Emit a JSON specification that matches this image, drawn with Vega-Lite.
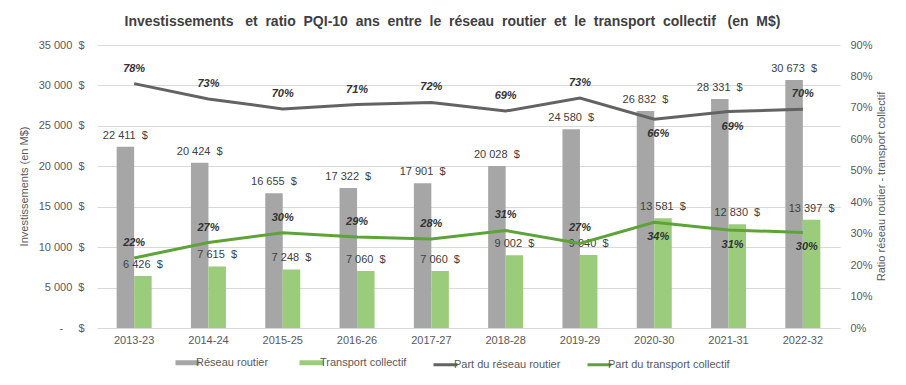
{
  "$schema": "https://vega.github.io/schema/vega-lite/v6.json",
  "width": 743,
  "height": 283,
  "autosize": {"type": "none"},
  "padding": {"left": 97, "top": 45, "right": 66, "bottom": 57},
  "background": "white",
  "title": {
    "text": "Investissements \u00a0\u00a0et \u00a0ratio \u00a0PQI-10 \u00a0ans \u00a0entre \u00a0le \u00a0réseau \u00a0routier \u00a0et \u00a0le \u00a0transport \u00a0collectif \u00a0\u00a0(en \u00a0M$)",
    "fontSize": 14,
    "fontWeight": "bold",
    "color": "#404040",
    "anchor": "middle",
    "dx": -16,
    "offset": 10
  },
  "datasets": {
    "invest": [
      {"period": "2013-23", "series": "Réseau routier", "value": 22411},
      {"period": "2013-23", "series": "Transport collectif", "value": 6426},
      {"period": "2014-24", "series": "Réseau routier", "value": 20424},
      {"period": "2014-24", "series": "Transport collectif", "value": 7615},
      {"period": "2015-25", "series": "Réseau routier", "value": 16655},
      {"period": "2015-25", "series": "Transport collectif", "value": 7248},
      {"period": "2016-26", "series": "Réseau routier", "value": 17322},
      {"period": "2016-26", "series": "Transport collectif", "value": 7060},
      {"period": "2017-27", "series": "Réseau routier", "value": 17901},
      {"period": "2017-27", "series": "Transport collectif", "value": 7060},
      {"period": "2018-28", "series": "Réseau routier", "value": 20028},
      {"period": "2018-28", "series": "Transport collectif", "value": 9002},
      {"period": "2019-29", "series": "Réseau routier", "value": 24580},
      {"period": "2019-29", "series": "Transport collectif", "value": 9040},
      {"period": "2020-30", "series": "Réseau routier", "value": 26832},
      {"period": "2020-30", "series": "Transport collectif", "value": 13581},
      {"period": "2021-31", "series": "Réseau routier", "value": 28331},
      {"period": "2021-31", "series": "Transport collectif", "value": 12830},
      {"period": "2022-32", "series": "Réseau routier", "value": 30673},
      {"period": "2022-32", "series": "Transport collectif", "value": 13397}
    ],
    "ratio": [
      {"period": "2013-23", "series": "Part du réseau routier", "share": 0.7772},
      {"period": "2014-24", "series": "Part du réseau routier", "share": 0.7284},
      {"period": "2015-25", "series": "Part du réseau routier", "share": 0.6968},
      {"period": "2016-26", "series": "Part du réseau routier", "share": 0.7104},
      {"period": "2017-27", "series": "Part du réseau routier", "share": 0.7172},
      {"period": "2018-28", "series": "Part du réseau routier", "share": 0.6899},
      {"period": "2019-29", "series": "Part du réseau routier", "share": 0.7311},
      {"period": "2020-30", "series": "Part du réseau routier", "share": 0.6639},
      {"period": "2021-31", "series": "Part du réseau routier", "share": 0.6883},
      {"period": "2022-32", "series": "Part du réseau routier", "share": 0.6960},
      {"period": "2013-23", "series": "Part du transport collectif", "share": 0.2228},
      {"period": "2014-24", "series": "Part du transport collectif", "share": 0.2716},
      {"period": "2015-25", "series": "Part du transport collectif", "share": 0.3032},
      {"period": "2016-26", "series": "Part du transport collectif", "share": 0.2896},
      {"period": "2017-27", "series": "Part du transport collectif", "share": 0.2828},
      {"period": "2018-28", "series": "Part du transport collectif", "share": 0.3101},
      {"period": "2019-29", "series": "Part du transport collectif", "share": 0.2689},
      {"period": "2020-30", "series": "Part du transport collectif", "share": 0.3361},
      {"period": "2021-31", "series": "Part du transport collectif", "share": 0.3117},
      {"period": "2022-32", "series": "Part du transport collectif", "share": 0.3040}
    ]
  },
  "layer": [
    {
      "data": {"name": "invest"},
      "encoding": {
        "x": {
          "field": "period",
          "type": "nominal",
          "sort": null,
          "scale": {"paddingInner": 0.529, "paddingOuter": 0.2645},
          "axis": {"title": null, "labelAngle": 0, "labelPadding": 6, "grid": false}
        },
        "xOffset": {
          "field": "series",
          "type": "nominal",
          "sort": ["Réseau routier", "Transport collectif"],
          "scale": {"paddingInner": 0, "paddingOuter": 0}
        },
        "y": {
          "field": "value",
          "type": "quantitative",
          "scale": {"domain": [0, 35000], "nice": false},
          "axis": {
            "orient": "left",
            "title": "Investissements  (en M$)",
            "values": [0, 5000, 10000, 15000, 20000, 25000, 30000, 35000],
            "format": "$,.0f",
            "labelExpr": "datum.value == 0 ? '-\u00a0\u00a0\u00a0\u00a0\u00a0$' : datum.label",
            "labelPadding": 13,
            "grid": true,
            "titleX": -73,
            "titleY": 141,
            "titleAngle": 270,
            "titleBaseline": "middle",
            "titleAlign": "center"
          }
        }
      },
      "layer": [
        {
          "mark": {"type": "bar"},
          "encoding": {
            "color": {
              "field": "series",
              "type": "nominal",
              "scale": {
                "domain": ["Réseau routier", "Transport collectif", "Part du réseau routier", "Part du transport collectif"],
                "range": ["#a6a6a6", "#9bcc7b", "#636363", "#5ea33a"]
              },
              "legend": {
                "title": null,
                "orient": "none",
                "legendX": 85,
                "legendY": 312,
                "direction": "horizontal",
                "columns": 4,
                "columnPadding": 20,
                "symbolType": "stroke",
                "symbolSize": 576,
                "symbolStrokeWidth": 4,
                "labelOffset": 3,
                "labelFontSize": 11,
                "labelColor": "#595959",
                "labelLimit": 300,
                "encode": {
                  "symbols": {
                    "update": {
                      "stroke": {"scale": "color", "field": "value"},
                      "strokeWidth": {"signal": "(datum.value == 'Réseau routier' || datum.value == 'Transport collectif') ? 5 : 3"}
                    }
                  }
                }
              }
            }
          }
        },
        {
          "mark": {"type": "text", "baseline": "middle", "dy": -11, "fontSize": 11, "color": "#404040"},
          "encoding": {
            "text": {"field": "value", "type": "quantitative", "format": "$,.0f"}
          }
        }
      ]
    },
    {
      "data": {"name": "ratio"},
      "encoding": {
        "x": {"field": "period", "type": "nominal", "sort": null},
        "y": {
          "field": "share",
          "type": "quantitative",
          "scale": {"domain": [0, 0.9], "nice": false},
          "axis": {
            "orient": "right",
            "title": "Ratio réseau routier - transport collectif",
            "values": [0, 0.1, 0.2, 0.3, 0.4, 0.5, 0.6, 0.7, 0.8, 0.9],
            "format": ".0%",
            "labelPadding": 10,
            "grid": false,
            "titleX": 41,
            "titleY": 141,
            "titleAngle": 270,
            "titleBaseline": "middle",
            "titleAlign": "center"
          }
        }
      },
      "layer": [
        {
          "mark": {"type": "line", "strokeWidth": 3},
          "encoding": {
            "color": {"field": "series", "type": "nominal"}
          }
        },
        {
          "transform": [
            {"filter": {"or": [
              {"and": [{"field": "series", "equal": "Part du réseau routier"}, {"not": {"field": "period", "oneOf": ["2020-30", "2021-31"]}}]},
              {"and": [{"field": "series", "equal": "Part du transport collectif"}, {"not": {"field": "period", "oneOf": ["2020-30", "2021-31", "2022-32"]}}]}
            ]}}
          ],
          "mark": {"type": "text", "baseline": "middle", "dy": -15, "fontSize": 11, "fontWeight": "bold", "fontStyle": "italic", "color": "#333333"},
          "encoding": {
            "text": {"field": "share", "type": "quantitative", "format": ".0%"}
          }
        },
        {
          "transform": [
            {"filter": {"or": [
              {"and": [{"field": "series", "equal": "Part du réseau routier"}, {"field": "period", "oneOf": ["2020-30", "2021-31"]}]},
              {"and": [{"field": "series", "equal": "Part du transport collectif"}, {"field": "period", "oneOf": ["2020-30", "2021-31", "2022-32"]}]}
            ]}}
          ],
          "mark": {"type": "text", "baseline": "middle", "dy": 15, "dx": 4, "fontSize": 11, "fontWeight": "bold", "fontStyle": "italic", "color": "#333333"},
          "encoding": {
            "text": {"field": "share", "type": "quantitative", "format": ".0%"}
          }
        }
      ]
    }
  ],
  "resolve": {"scale": {"y": "independent"}},
  "config": {
    "font": "Liberation Sans",
    "locale": {
      "number": {
        "decimal": ",",
        "thousands": " ",
        "grouping": [3],
        "currency": ["", "\u00a0\u00a0$"]
      }
    },
    "view": {"stroke": null},
    "axis": {
      "labelFont": "Liberation Sans",
      "labelFontSize": 11,
      "labelColor": "#595959",
      "titleFont": "Liberation Sans",
      "titleFontSize": 11,
      "titleFontWeight": "normal",
      "titleColor": "#595959",
      "domain": false,
      "ticks": false,
      "tickSize": 0,
      "gridColor": "#d9d9d9",
      "gridWidth": 1
    },
    "legend": {"labelFont": "Liberation Sans"},
    "title": {"font": "Liberation Sans"}
  }
}
